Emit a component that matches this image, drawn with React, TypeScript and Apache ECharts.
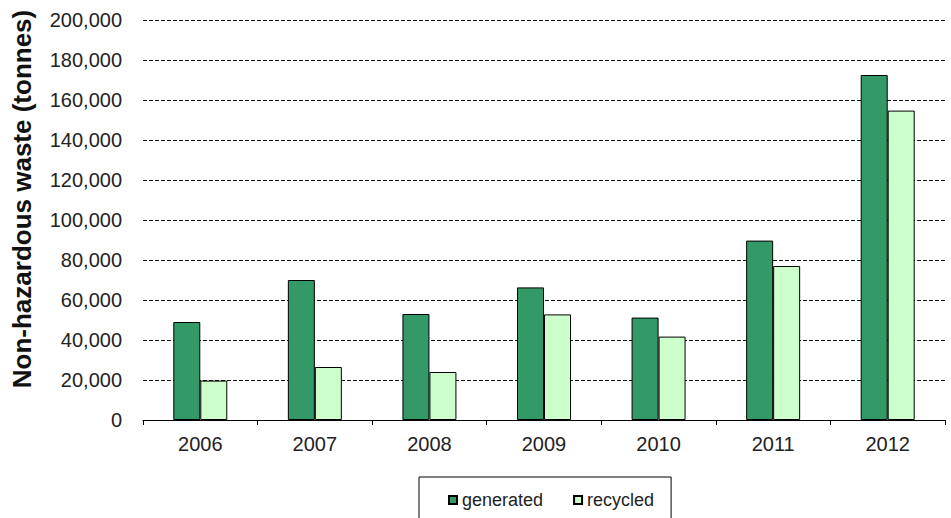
import React, { useEffect, useRef } from "react";
import * as echarts from "echarts";

const years = ["2006", "2007", "2008", "2009", "2010", "2011", "2012"];
const generated = [49000, 70000, 53000, 66300, 51200, 89700, 172500];
const recycled = [19700, 26500, 24000, 52800, 41700, 77000, 154700];
const yTicks = { min: 0, max: 200000, interval: 20000 };
const yTitle = "Non-hazardous waste (tonnes)";

export default function App() {
  const ref = useRef<HTMLDivElement>(null);
  useEffect(() => {
    if (!ref.current) return;
    const chart = echarts.init(ref.current, null, { renderer: "svg" });
    const font = "'Liberation Sans', Arial, sans-serif";
    chart.setOption({
      animation: false,
      backgroundColor: "#ffffff",
      grid: { left: 143, right: 6, top: 20, bottom: 98, containLabel: false },
      graphic: [
        {
          type: "text",
          x: 22,
          y: 199,
          rotation: Math.PI / 2,
          style: {
            text: yTitle,
            fontFamily: font,
            fontWeight: "bold",
            fontSize: 26,
            fill: "#111",
            align: "center",
            verticalAlign: "middle",
          },
        },
      ],
      legend: {
        left: 419,
        top: 477,
        padding: [14, 17, 24, 29],
        borderColor: "#000",
        borderWidth: 1,
        itemWidth: 8,
        itemHeight: 8,
        itemGap: 30,
        icon: "rect",
        textStyle: { fontFamily: font, fontSize: 18, color: "#222" },
        data: ["generated", "recycled"],
      },
      xAxis: {
        type: "category",
        data: years,
        axisLine: { lineStyle: { color: "#000", width: 1 } },
        axisTick: { show: true, length: 5, lineStyle: { color: "#000" } },
        axisLabel: { fontFamily: font, fontSize: 20, color: "#222", margin: 14 },
      },
      yAxis: {
        type: "value",
        min: yTicks.min,
        max: yTicks.max,
        interval: yTicks.interval,
        axisLine: { show: false },
        axisTick: { show: false },
        axisLabel: {
          fontFamily: font,
          fontSize: 20,
          color: "#222",
          margin: 21,
          formatter: (v: number) => v.toLocaleString("en-US"),
        },
        splitLine: { lineStyle: { color: "#111", type: [4, 2], width: 1 } },
      },
      series: [
        {
          name: "generated",
          type: "bar",
          data: generated,
          barWidth: 27,
          barGap: "0%",
          itemStyle: { color: "#339966", borderColor: "#000", borderWidth: 1 },
        },
        {
          name: "recycled",
          type: "bar",
          data: recycled,
          barWidth: 27,
          itemStyle: { color: "#ccffcc", borderColor: "#000", borderWidth: 1 },
        },
      ],
    });
    return () => chart.dispose();
  }, []);
  return <div ref={ref} style={{ width: 951, height: 518, position: "absolute", left: 0, top: 0 }} />;
}
